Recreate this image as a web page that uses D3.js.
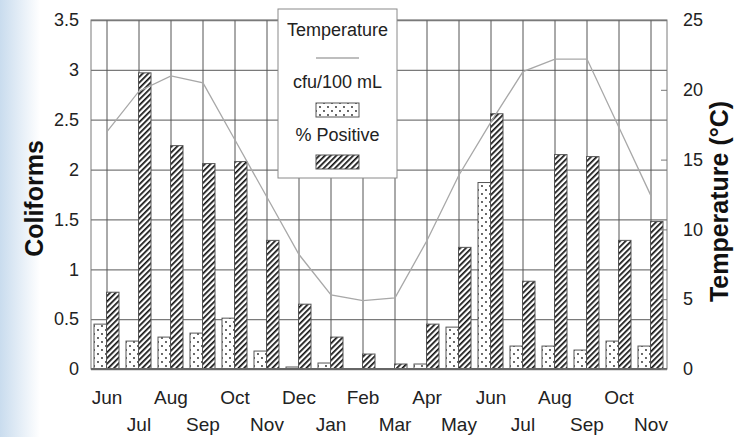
<!DOCTYPE html>
<html>
<head>
<meta charset="utf-8">
<script src="https://cdn.jsdelivr.net/npm/d3@7"></script>
<style>
  body { margin: 0; background: #fff; }
  svg { display: block; font-family: "Liberation Sans", Arial, sans-serif; }
</style>
</head>
<body>
<svg width="746" height="437"></svg>
<script>
// months, two seasons (Jun -> Nov of next year)
const months = ["Jun","Jul","Aug","Sep","Oct","Nov","Dec","Jan","Feb","Mar","Apr","May",
                "Jun","Jul","Aug","Sep","Oct","Nov"];
const cfu = [0.45,0.28,0.32,0.36,0.51,0.18,0.02,0.06,0,0,0.05,0.42,1.87,0.23,0.23,0.19,0.28,0.23];
const pctPositive = [0.77,2.97,2.24,2.06,2.08,1.29,0.65,0.32,0.15,0.05,0.45,1.22,2.56,0.88,2.15,2.13,1.29,1.48];
const temperature = [17.0,19.9,21.0,20.5,16.4,12.3,8.2,5.3,4.9,5.1,9.2,13.9,17.7,21.3,22.2,22.2,17.3,12.4];
const leftTicks = [0,0.5,1,1.5,2,2.5,3,3.5];
const rightTicks = [0,5,10,15,20,25];

const svg = d3.select("svg");
const margin = { top: 20, right: 79, bottom: 68, left: 91 };
const W = 746, H = 437;
const x0 = margin.left, x1 = W - margin.right;
const yTop = margin.top, yBot = H - margin.bottom;

const defs = svg.append("defs");

// bluish backdrop on the left edge (slide background)
const bg = defs.append("linearGradient").attr("id", "bgGrad")
  .attr("x1", "0%").attr("x2", "100%").attr("y1", "0%").attr("y2", "0%");
bg.append("stop").attr("offset", "0%").attr("stop-color", "#c9dcee");
bg.append("stop").attr("offset", "100%").attr("stop-color", "#ffffff");
svg.append("rect").attr("x", 0).attr("y", 0).attr("width", 40).attr("height", H)
  .attr("fill", "url(#bgGrad)");

// patterns
const dots = defs.append("pattern").attr("id", "dots")
  .attr("patternUnits", "userSpaceOnUse").attr("width", 8).attr("height", 8);
dots.append("rect").attr("width", 8).attr("height", 8).attr("fill", "#fff");
dots.append("circle").attr("cx", 2).attr("cy", 2).attr("r", 0.9).attr("fill", "#222");
dots.append("circle").attr("cx", 6).attr("cy", 6).attr("r", 0.9).attr("fill", "#222");

const hatch = defs.append("pattern").attr("id", "hatch")
  .attr("patternUnits", "userSpaceOnUse").attr("width", 4).attr("height", 4)
  .attr("patternTransform", "rotate(45)");
hatch.append("rect").attr("width", 4).attr("height", 4).attr("fill", "#fff");
hatch.append("rect").attr("x", 0).attr("y", 0).attr("width", 1.7).attr("height", 4).attr("fill", "#111");

// scales
const x = d3.scaleBand().domain(d3.range(months.length)).range([x0, x1]);
const xPair = d3.scaleBand().domain(["cfu", "pct"]).range([-13, 12]);
const y = d3.scaleLinear().domain([0, 3.5]).range([yBot, yTop]);
const yR = d3.scaleLinear().domain([0, 25]).range([yBot, yTop]);
const cx = i => x(i) + x.bandwidth() / 2;

// plot background + grid
svg.append("rect").attr("x", x0).attr("y", yTop).attr("width", x1 - x0).attr("height", yBot - yTop)
  .attr("fill", "#fff");

svg.append("g")
  .attr("transform", `translate(${x0},0)`)
  .call(d3.axisLeft(y).tickValues(leftTicks).tickSize(-(x1 - x0)).tickFormat(""))
  .call(g => g.select(".domain").remove())
  .selectAll("line").attr("stroke", "#7a7a7a").attr("stroke-width", 1.3);

svg.append("g")
  .attr("transform", `translate(0,${yBot})`)
  .call(d3.axisBottom(x).tickSize(-(yBot - yTop)).tickFormat(""))
  .call(g => g.select(".domain").remove())
  .selectAll("line").attr("stroke", "#555").attr("stroke-width", 1);

// bars
const rows = months.map((m, i) => ({ i, cfu: cfu[i], pct: pctPositive[i] }));
svg.append("g").selectAll("rect.cfu")
  .data(rows.filter(d => d.cfu > 0))
  .enter().append("rect")
  .attr("x", d => cx(d.i) + xPair("cfu"))
  .attr("y", d => y(d.cfu))
  .attr("width", xPair.bandwidth())
  .attr("height", d => y(0) - y(d.cfu))
  .attr("fill", "url(#dots)")
  .attr("stroke", "#555").attr("stroke-width", 1);

svg.append("g").selectAll("rect.pct")
  .data(rows)
  .enter().append("rect")
  .attr("x", d => cx(d.i) + xPair("pct"))
  .attr("y", d => y(d.pct))
  .attr("width", xPair.bandwidth())
  .attr("height", d => y(0) - y(d.pct))
  .attr("fill", "url(#hatch)")
  .attr("stroke", "#555").attr("stroke-width", 1);

// temperature line
svg.append("path")
  .datum(temperature)
  .attr("fill", "none")
  .attr("stroke", "#a8a8a8")
  .attr("stroke-width", 1.3)
  .attr("d", d3.line().x((d, i) => cx(i)).y(d => yR(d)));

// frame
svg.append("rect").attr("x", x0).attr("y", yTop).attr("width", x1 - x0).attr("height", yBot - yTop)
  .attr("fill", "none").attr("stroke", "#7a7a7a").attr("stroke-width", 1);
svg.append("line").attr("x1", x0).attr("x2", x1).attr("y1", yBot).attr("y2", yBot)
  .attr("stroke", "#666").attr("stroke-width", 2);

// left axis labels
const axL = svg.append("g")
  .attr("transform", `translate(${x0},0)`)
  .call(d3.axisLeft(y).tickValues(leftTicks).tickSize(0).tickPadding(12).tickFormat(d3.format("")));
axL.select(".domain").remove();
axL.selectAll("text").attr("font-size", 18).attr("fill", "#222")
  .attr("font-family", "Liberation Sans, Arial, sans-serif");

// right axis (inward ticks)
const axR = svg.append("g")
  .attr("transform", `translate(${x1},0)`)
  .call(d3.axisRight(yR).tickValues(rightTicks).tickSizeInner(-6).tickSizeOuter(0).tickPadding(16));
axR.select(".domain").remove();
axR.selectAll("line").attr("stroke", "#777");
axR.selectAll("text").attr("font-size", 18).attr("fill", "#222")
  .attr("font-family", "Liberation Sans, Arial, sans-serif");

// month labels, staggered in two rows
const axB = svg.append("g")
  .attr("transform", `translate(0,${yBot})`)
  .call(d3.axisBottom(x).tickSize(0).tickPadding(0).tickFormat(i => months[i]));
axB.select(".domain").remove();
axB.selectAll("text")
  .attr("font-size", 19).attr("fill", "#222")
  .attr("font-family", "Liberation Sans, Arial, sans-serif")
  .attr("dy", null)
  .attr("y", (d, i) => i % 2 === 0 ? 35 : 62);

// axis titles
svg.append("text")
  .attr("transform", `translate(43,${(yTop + yBot) / 2 + 4}) rotate(-90)`)
  .attr("text-anchor", "middle")
  .attr("font-size", 25).attr("font-weight", "bold").attr("fill", "#111")
  .text("Coliforms");

svg.append("text")
  .attr("transform", `translate(728,${(yTop + yBot) / 2 + 7}) rotate(-90)`)
  .attr("text-anchor", "middle")
  .attr("font-size", 25).attr("font-weight", "bold").attr("fill", "#111")
  .text("Temperature (°C)");

// legend
const lg = svg.append("g").attr("transform", "translate(278,9)");
lg.append("rect").attr("width", 119).attr("height", 169)
  .attr("fill", "#fff").attr("stroke", "#8a8a8a").attr("stroke-width", 1);
const lx = 59.5;
lg.append("text").attr("x", lx).attr("y", 27).attr("text-anchor", "middle")
  .attr("font-size", 18).attr("fill", "#222").text("Temperature");
lg.append("line").attr("x1", 38).attr("x2", 81).attr("y1", 49).attr("y2", 49)
  .attr("stroke", "#a8a8a8").attr("stroke-width", 1.3);
lg.append("text").attr("x", lx).attr("y", 79).attr("text-anchor", "middle")
  .attr("font-size", 18).attr("fill", "#222").text("cfu/100 mL");
lg.append("rect").attr("x", 38).attr("y", 94).attr("width", 43).attr("height", 14)
  .attr("fill", "url(#dots)").attr("stroke", "#555");
lg.append("text").attr("x", lx).attr("y", 132).attr("text-anchor", "middle")
  .attr("font-size", 18).attr("fill", "#222").text("% Positive");
lg.append("rect").attr("x", 38).attr("y", 146).attr("width", 43).attr("height", 14)
  .attr("fill", "url(#hatch)").attr("stroke", "#555");
</script>
</body>
</html>
